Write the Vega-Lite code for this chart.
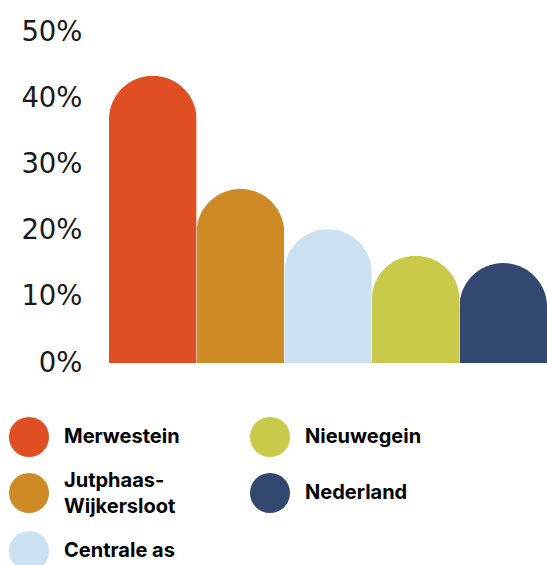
{
  "$schema": "https://vega.github.io/schema/vega-lite/v6.json",
  "width": 438,
  "height": 331,
  "autosize": {"type": "none"},
  "padding": {"left": 109, "top": 32, "right": 0, "bottom": 202},
  "background": "white",
  "config": {"view": {"stroke": null}},
  "data": {
    "values": [
      {"gebied": "Merwestein", "aandeel": 0.434},
      {"gebied": "Jutphaas-Wijkersloot", "aandeel": 0.263},
      {"gebied": "Centrale as", "aandeel": 0.202},
      {"gebied": "Nieuwegein", "aandeel": 0.162},
      {"gebied": "Nederland", "aandeel": 0.151}
    ]
  },
  "mark": {"type": "bar", "cornerRadiusTopLeft": 44, "cornerRadiusTopRight": 44},
  "encoding": {
    "x": {
      "field": "gebied",
      "type": "nominal",
      "sort": ["Merwestein", "Jutphaas-Wijkersloot", "Centrale as", "Nieuwegein", "Nederland"],
      "axis": null,
      "scale": {"paddingInner": 0, "paddingOuter": 0}
    },
    "y": {
      "field": "aandeel",
      "type": "quantitative",
      "scale": {"domain": [0, 0.5]},
      "axis": {
        "values": [0, 0.1, 0.2, 0.3, 0.4, 0.5],
        "format": ".0%",
        "domain": false,
        "ticks": false,
        "grid": false,
        "labelPadding": 27,
        "labelFont": "DejaVu Sans",
        "labelFontSize": 27.5,
        "labelColor": "#1a1a1a",
        "labelFlush": false,
        "title": null
      }
    },
    "color": {
      "field": "gebied",
      "type": "nominal",
      "scale": {
        "domain": ["Merwestein", "Jutphaas-Wijkersloot", "Centrale as", "Nieuwegein", "Nederland"],
        "range": ["#E04E23", "#CD8A25", "#CBE1F1", "#C9C94A", "#334870"]
      },
      "legend": {
        "orient": "none",
        "legendX": -100,
        "legendY": 385,
        "columns": 2,
        "title": null,
        "padding": 0,
        "symbolType": "circle",
        "symbolSize": 1600,
        "symbolStrokeWidth": 0,
        "symbolOpacity": 1,
        "labelOffset": 15,
        "columnPadding": 70,
        "rowPadding": 14,
        "labelFont": "Inter",
        "labelFontWeight": "bold",
        "labelFontSize": 20,
        "labelColor": "#000000",
        "labelLimit": 300,
        "labelExpr": "datum.label == 'Jutphaas-Wijkersloot' ? ['Jutphaas-', 'Wijkersloot'] : datum.label",
        "encode": {
          "labels": {
            "update": {
              "lineHeight": {"value": 26},
              "dy": {"signal": "datum.value == 'Jutphaas-Wijkersloot' ? -12 : 0"}
            }
          }
        }
      }
    }
  }
}
